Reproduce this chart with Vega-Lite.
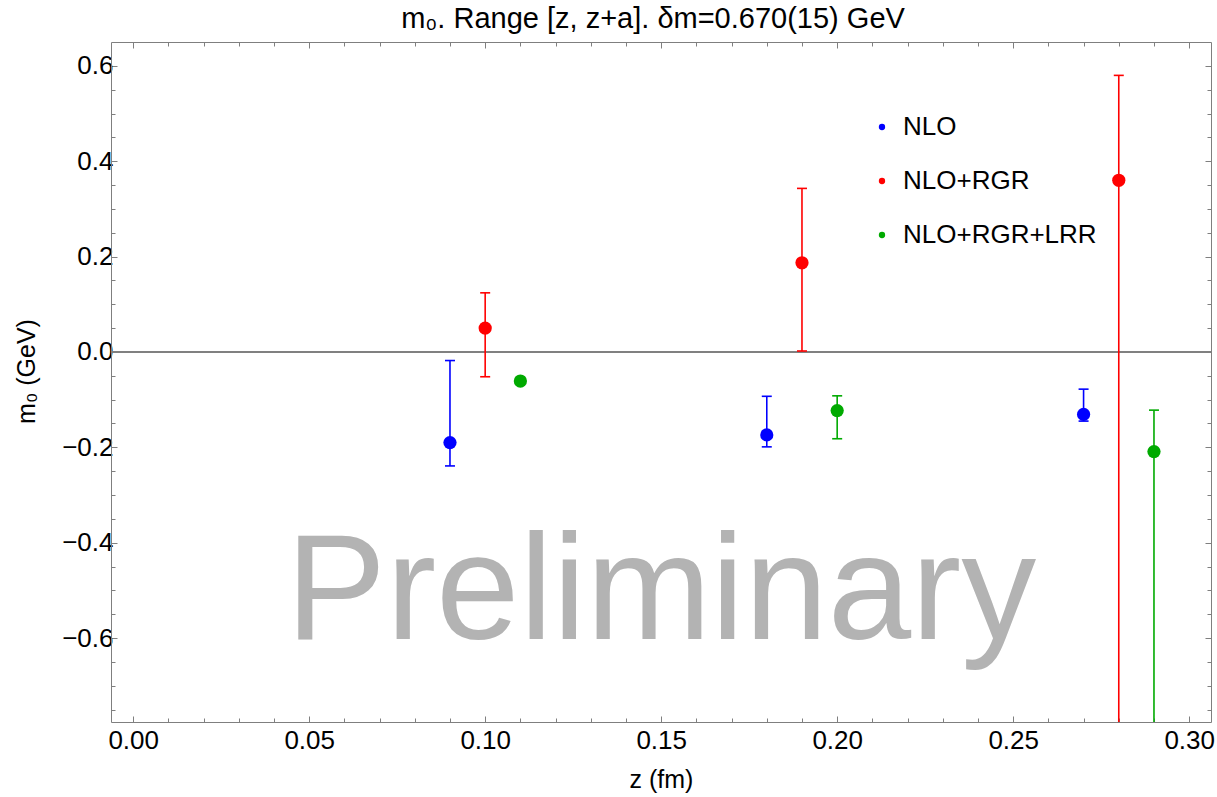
{
  "$schema": "https://vega.github.io/schema/vega-lite/v6.json",
  "width": 1100,
  "height": 680,
  "autosize": {"type": "none"},
  "padding": {"left": 111, "top": 42, "right": 6, "bottom": 75},
  "background": "white",
  "config": {
    "font": "Liberation Sans",
    "view": {"stroke": null},
    "axis": {
      "grid": false,
      "domainColor": "#7f7f7f",
      "tickColor": "#7f7f7f",
      "labelColor": "black",
      "labelFont": "Liberation Sans",
      "titleFont": "Liberation Sans",
      "labelFontSize": 26,
      "titleFontSize": 25,
      "titleFontWeight": "normal",
      "titleColor": "black"
    },
    "legend": {
      "orient": "none",
      "legendX": 758,
      "legendY": 72,
      "title": null,
      "labelFontSize": 26,
      "labelFont": "Liberation Sans",
      "labelColor": "black",
      "labelLimit": 0,
      "symbolSize": 40,
      "symbolType": "circle",
      "symbolStrokeWidth": 0,
      "rowPadding": 28,
      "labelOffset": 8
    }
  },
  "title": {
    "text": "m₀. Range [z, z+a]. δm=0.670(15) GeV",
    "fontSize": 29,
    "fontWeight": "normal",
    "font": "Liberation Sans",
    "color": "black",
    "anchor": "middle",
    "offset": 8,
    "dx": -8
  },
  "data": {
    "values": [
      {"series": "NLO", "z": 0.09, "m": -0.190, "lo": -0.239, "hi": -0.018},
      {"series": "NLO", "z": 0.18, "m": -0.174, "lo": -0.199, "hi": -0.093},
      {"series": "NLO", "z": 0.27, "m": -0.131, "lo": -0.145, "hi": -0.078},
      {"series": "NLO+RGR", "z": 0.10, "m": 0.050, "lo": -0.052, "hi": 0.124},
      {"series": "NLO+RGR", "z": 0.19, "m": 0.187, "lo": 0.002, "hi": 0.343},
      {"series": "NLO+RGR", "z": 0.28, "m": 0.360, "lo": -1.0, "hi": 0.580},
      {"series": "NLO+RGR+LRR", "z": 0.11, "m": -0.061, "lo": -0.064, "hi": -0.058},
      {"series": "NLO+RGR+LRR", "z": 0.20, "m": -0.123, "lo": -0.182, "hi": -0.092},
      {"series": "NLO+RGR+LRR", "z": 0.29, "m": -0.209, "lo": -1.0, "hi": -0.122}
    ]
  },
  "resolve": {"axis": {"x": "independent", "y": "independent"}},
  "layer": [
    {
      "data": {"values": [{"label": "Preliminary", "z": 0.15, "m": -0.602}]},
      "mark": {"type": "text", "fontSize": 150, "color": "#b3b3b3", "align": "center", "baseline": "alphabetic", "font": "Liberation Sans"},
      "encoding": {
        "x": {"field": "z", "type": "quantitative", "scale": {"domain": [-0.0063, 0.3062], "nice": false, "zero": false}, "axis": null},
        "y": {"field": "m", "type": "quantitative", "scale": {"domain": [-0.776, 0.65], "nice": false, "zero": false}, "axis": null},
        "text": {"field": "label"}
      }
    },
    {
      "mark": {"type": "rule", "color": "#808080", "strokeWidth": 1},
      "encoding": {
        "y": {"datum": 0, "type": "quantitative", "scale": {"domain": [-0.776, 0.65], "nice": false, "zero": false}, "axis": null}
      }
    },
    {
      "mark": {"type": "rule", "strokeWidth": 1.6, "clip": true},
      "encoding": {
        "x": {"field": "z", "type": "quantitative", "scale": {"domain": [-0.0063, 0.3062], "nice": false, "zero": false},
              "axis": {"orient": "bottom", "values": [0.01,0.02,0.03,0.04,0.06,0.07,0.08,0.09,0.11,0.12,0.13,0.14,0.16,0.17,0.18,0.19,0.21,0.22,0.23,0.24,0.26,0.27,0.28,0.29], "labels": false, "domain": false, "tickSize": -4, "title": null}},
        "y": {"field": "lo", "type": "quantitative", "scale": {"domain": [-0.776, 0.65], "nice": false, "zero": false},
              "axis": {"orient": "left", "values": [-0.75,-0.7,-0.65,-0.55,-0.5,-0.45,-0.35,-0.3,-0.25,-0.15,-0.1,-0.05,0.05,0.1,0.15,0.25,0.3,0.35,0.45,0.5,0.55], "labels": false, "domain": false, "tickSize": -4, "title": null}},
        "y2": {"field": "hi"},
        "color": {"field": "series", "type": "nominal", "scale": {"domain": ["NLO", "NLO+RGR", "NLO+RGR+LRR"], "range": ["#0000ff", "#ff0000", "#00aa00"]}}
      }
    },
    {
      "mark": {"type": "tick", "orient": "horizontal", "size": 10, "thickness": 1.6, "clip": true, "opacity": 1},
      "encoding": {
        "x": {"field": "z", "type": "quantitative", "scale": {"domain": [-0.0063, 0.3062], "nice": false, "zero": false},
              "axis": {"orient": "top", "values": [0,0.05,0.1,0.15,0.2,0.25,0.3], "labels": false, "domain": true, "tickSize": -6, "title": null}},
        "y": {"field": "lo", "type": "quantitative", "scale": {"domain": [-0.776, 0.65], "nice": false, "zero": false},
              "axis": {"orient": "right", "values": [-0.6,-0.4,-0.2,0,0.2,0.4,0.6], "labels": false, "domain": true, "tickSize": -6, "title": null}},
        "color": {"field": "series", "type": "nominal", "scale": {"domain": ["NLO", "NLO+RGR", "NLO+RGR+LRR"], "range": ["#0000ff", "#ff0000", "#00aa00"]}}
      }
    },
    {
      "mark": {"type": "tick", "orient": "horizontal", "size": 10, "thickness": 1.6, "clip": true, "opacity": 1},
      "encoding": {
        "x": {"field": "z", "type": "quantitative", "scale": {"domain": [-0.0063, 0.3062], "nice": false, "zero": false},
              "axis": {"orient": "top", "values": [0.01,0.02,0.03,0.04,0.06,0.07,0.08,0.09,0.11,0.12,0.13,0.14,0.16,0.17,0.18,0.19,0.21,0.22,0.23,0.24,0.26,0.27,0.28,0.29], "labels": false, "domain": false, "tickSize": -4, "title": null}},
        "y": {"field": "hi", "type": "quantitative", "scale": {"domain": [-0.776, 0.65], "nice": false, "zero": false},
              "axis": {"orient": "right", "values": [-0.75,-0.7,-0.65,-0.55,-0.5,-0.45,-0.35,-0.3,-0.25,-0.15,-0.1,-0.05,0.05,0.1,0.15,0.25,0.3,0.35,0.45,0.5,0.55], "labels": false, "domain": false, "tickSize": -4, "title": null}},
        "color": {"field": "series", "type": "nominal", "scale": {"domain": ["NLO", "NLO+RGR", "NLO+RGR+LRR"], "range": ["#0000ff", "#ff0000", "#00aa00"]}}
      }
    },
    {
      "mark": {"type": "circle", "size": 175, "opacity": 1, "clip": true},
      "encoding": {
        "x": {"field": "z", "type": "quantitative", "scale": {"domain": [-0.0063, 0.3062], "nice": false, "zero": false},
              "axis": {"orient": "bottom", "values": [0,0.05,0.1,0.15,0.2,0.25,0.3], "format": ".2f", "domain": true, "tickSize": -6, "labelPadding": 11, "title": "z (fm)", "titlePadding": 14}},
        "y": {"field": "m", "type": "quantitative", "scale": {"domain": [-0.776, 0.65], "nice": false, "zero": false},
              "axis": {"orient": "left", "values": [-0.6,-0.4,-0.2,0,0.2,0.4,0.6], "format": ".1f", "domain": true, "tickSize": -6, "labelPadding": 4, "title": "m₀ (GeV)", "titlePadding": 22, "titleY": 329}},
        "color": {"field": "series", "type": "nominal", "scale": {"domain": ["NLO", "NLO+RGR", "NLO+RGR+LRR"], "range": ["#0000ff", "#ff0000", "#00aa00"]}}
      }
    }
  ]
}
